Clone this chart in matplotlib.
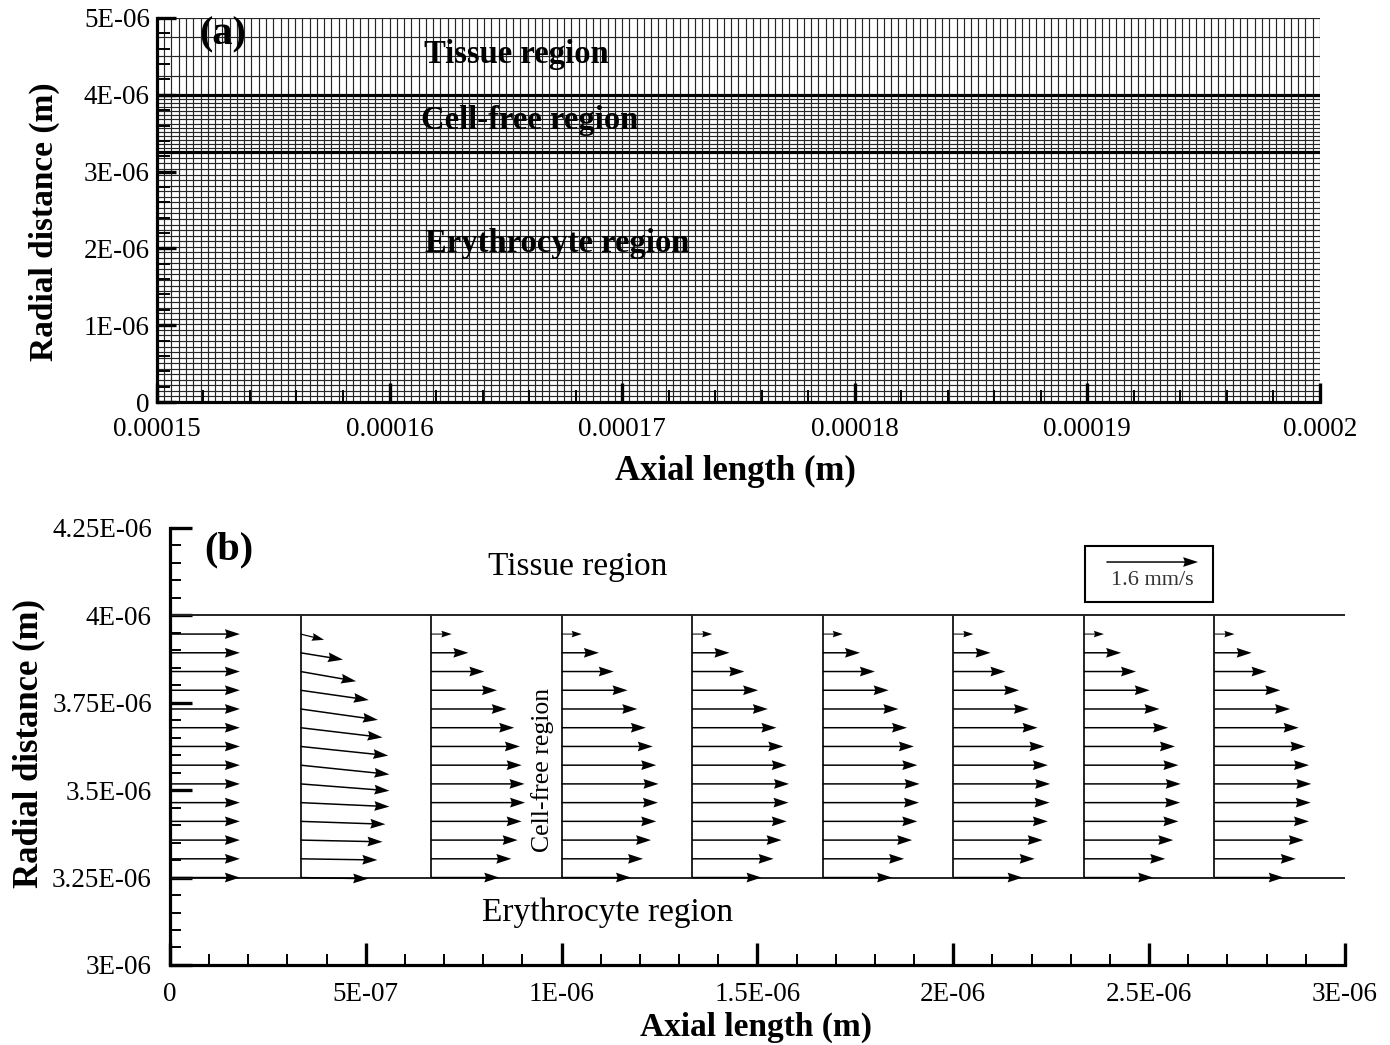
import numpy as np
import matplotlib
matplotlib.use("Agg")
from matplotlib import pyplot as plt
from matplotlib.patches import Rectangle
from matplotlib.ticker import MultipleLocator

plt.rcParams["font.family"] = ["Liberation Serif", "DejaVu Serif"]

# ---- (a) computational mesh ----
mesh_x_range = [0.00015, 0.0002]
mesh_axial_cells = 160
region_bounds = [0.0, 3.25e-6, 4.0e-6, 5.0e-6]   # erythrocyte | cell-free | tissue
region_radial_cells = [45, 14, 4]
a_xticks = [0.00015, 0.00016, 0.00017, 0.00018, 0.00019, 0.0002]
a_xticklabels = ["0.00015", "0.00016", "0.00017", "0.00018", "0.00019", "0.0002"]
a_yticks = [0.0, 1e-6, 2e-6, 3e-6, 4e-6, 5e-6]
a_yticklabels = ["0", "1E-06", "2E-06", "3E-06", "4E-06", "5E-06"]

# ---- (b) velocity vectors in the cell-free layer (mm/s) ----
col_x = [0.0, 1/3 * 1e-6, 2/3 * 1e-6, 1e-6, 4/3 * 1e-6, 5/3 * 1e-6, 2e-6, 7/3 * 1e-6, 8/3 * 1e-6]
u_inlet = [1.22] * 14
u_col1 = [1.18, 1.34, 1.43, 1.48, 1.55, 1.55, 1.55, 1.53, 1.43, 1.35, 1.19, 0.97, 0.74, 0.41]
v_col1 = [-0.02, -0.02, -0.03, -0.05, -0.07, -0.12, -0.16, -0.16, -0.17, -0.19, -0.17, -0.17, -0.12, -0.10]
u_col2 = [1.19, 1.40, 1.51, 1.58, 1.64, 1.63, 1.58, 1.55, 1.45, 1.32, 1.15, 0.93, 0.65, 0.36]
u_developed = [1.21, 1.42, 1.56, 1.65, 1.68, 1.69, 1.65, 1.59, 1.47, 1.32, 1.15, 0.91, 0.65, 0.35]
key_speed = 1.6
b_xticks = [0, 5e-7, 1e-6, 1.5e-6, 2e-6, 2.5e-6, 3e-6]
b_xticklabels = ["0", "5E-07", "1E-06", "1.5E-06", "2E-06", "2.5E-06", "3E-06"]
b_yticks = [3e-6, 3.25e-6, 3.5e-6, 3.75e-6, 4e-6, 4.25e-6]
b_yticklabels = ["3E-06", "3.25E-06", "3.5E-06", "3.75E-06", "4E-06", "4.25E-06"]


def style_axes(ax, maj_len, min_len, xpad, ypad):
    for s in ["top", "right"]:
        ax.spines[s].set_visible(False)
    for s in ["left", "bottom"]:
        ax.spines[s].set_linewidth(2.3)
    ax.tick_params(which="major", direction="in", length=maj_len, width=2.4,
                   labelsize=19.5, top=False, right=False)
    ax.tick_params(which="minor", direction="in", length=min_len, width=1.4,
                   top=False, right=False)
    ax.tick_params(axis="x", which="both", pad=xpad)
    ax.tick_params(axis="y", which="both", pad=ypad)


fig = plt.figure(figsize=(13.9, 10.45), dpi=100)

# ================= panel (a) =================
axa = fig.add_axes([0.1129, 0.6153, 0.8367, 0.3675])
x_lines = np.linspace(mesh_x_range[0], mesh_x_range[1], mesh_axial_cells + 1)
y_lines = np.unique(np.concatenate([
    np.linspace(region_bounds[i], region_bounds[i + 1], n + 1)
    for i, n in enumerate(region_radial_cells)
]))
axa.vlines(x_lines, region_bounds[0], region_bounds[-1], colors="#262626", lw=0.85, zorder=1)
axa.hlines(y_lines, mesh_x_range[0], mesh_x_range[1], colors="#262626", lw=0.85, zorder=1)
axa.hlines(region_bounds[1:3], mesh_x_range[0], mesh_x_range[1], colors="black", lw=2.3, zorder=2)
axa.set_xlim(mesh_x_range)
axa.set_ylim(region_bounds[0], region_bounds[-1])
axa.set_xticks(a_xticks, a_xticklabels)
axa.set_yticks(a_yticks, a_yticklabels)
axa.xaxis.set_minor_locator(MultipleLocator(2e-6))
axa.yaxis.set_minor_locator(MultipleLocator(2e-7))
style_axes(axa, 14, 9, 11, 5)
axa.set_xlabel("Axial length (m)", fontsize=25, fontweight="bold")
axa.set_ylabel("Radial distance (m)", fontsize=24, fontweight="bold")
axa.xaxis.set_label_coords(0.497, -0.138)
axa.yaxis.set_label_coords(-0.083, 0.469)
axa.text(0.0568, 0.956, "(a)", transform=axa.transAxes, fontsize=29,
         fontweight="bold", ha="center", va="center")
axa.text(0.3087, 0.9036, "Tissue region", transform=axa.transAxes, fontsize=23.5,
         fontweight="bold", ha="center", va="center")
axa.text(0.3207, 0.734, "Cell-free region", transform=axa.transAxes, fontsize=23.5,
         fontweight="bold", ha="center", va="center")
axa.text(0.344, 0.414, "Erythrocyte region", transform=axa.transAxes, fontsize=23.5,
         fontweight="bold", ha="center", va="center")

# ================= panel (b) =================
axb = fig.add_axes([0.1223, 0.0766, 0.8453, 0.4182])
row_y = np.linspace(region_bounds[1], region_bounds[2], region_radial_cells[1] + 1)[:-1]
u_cols = [u_inlet, u_col1, u_col2] + [u_developed] * (len(col_x) - 3)
v_cols = [[0.0] * 14, v_col1] + [[0.0] * 14] * (len(col_x) - 2)
X, Y = np.meshgrid(col_x, row_y, indexing="ij")
U = np.array(u_cols)
V = np.array(v_cols)

axb.hlines(region_bounds[1:3], 0, 3e-6, colors="#222222", lw=1.4, zorder=2)
axb.vlines(col_x[1:], region_bounds[1], region_bounds[2], colors="#222222", lw=1.4, zorder=2)
Q = axb.quiver(X, Y, U, V, angles="uv", scale_units="inches", scale=1.745,
               units="dots", width=1.5, headwidth=6.5, headlength=10,
               headaxislength=9, minshaft=2, color="black", zorder=3)
axb.set_xlim(0, 3e-6)
axb.set_ylim(3e-6, 4.25e-6)
axb.set_xticks(b_xticks, b_xticklabels)
axb.set_yticks(b_yticks, b_yticklabels)
axb.xaxis.set_minor_locator(MultipleLocator(1e-7))
axb.yaxis.set_minor_locator(MultipleLocator(5e-8))
style_axes(axb, 16, 8, 12, 13)
axb.set_xlabel("Axial length (m)", fontsize=24, fontweight="bold")
axb.set_ylabel("Radial distance (m)", fontsize=25, fontweight="bold")
axb.xaxis.set_label_coords(0.4987, -0.1076)
axb.yaxis.set_label_coords(-0.106, 0.506)
axb.text(0.0502, 0.9497, "(b)", transform=axb.transAxes, fontsize=29,
         fontweight="bold", ha="center", va="center")
axb.text(0.347, 0.911, "Tissue region", transform=axb.transAxes, fontsize=24,
         ha="center", va="center")
axb.text(0.372, 0.119, "Erythrocyte region", transform=axb.transAxes, fontsize=24,
         ha="center", va="center")
axb.text(0.3174, 0.446, "Cell-free region", transform=axb.transAxes, fontsize=18.5,
         rotation=90, ha="center", va="center")
axb.add_patch(Rectangle((0.7787, 0.8307), 0.109, 0.128, transform=axb.transAxes,
                        fill=False, lw=1.5, ec="black", zorder=4))
axb.quiverkey(Q, 0.836, 0.922, key_speed, f"{key_speed} mm/s", labelpos="S",
              coordinates="axes", labelsep=0.09, labelcolor="#333333",
              fontproperties={"size": 16})

fig.savefig("out.png", dpi=100, facecolor="white")
